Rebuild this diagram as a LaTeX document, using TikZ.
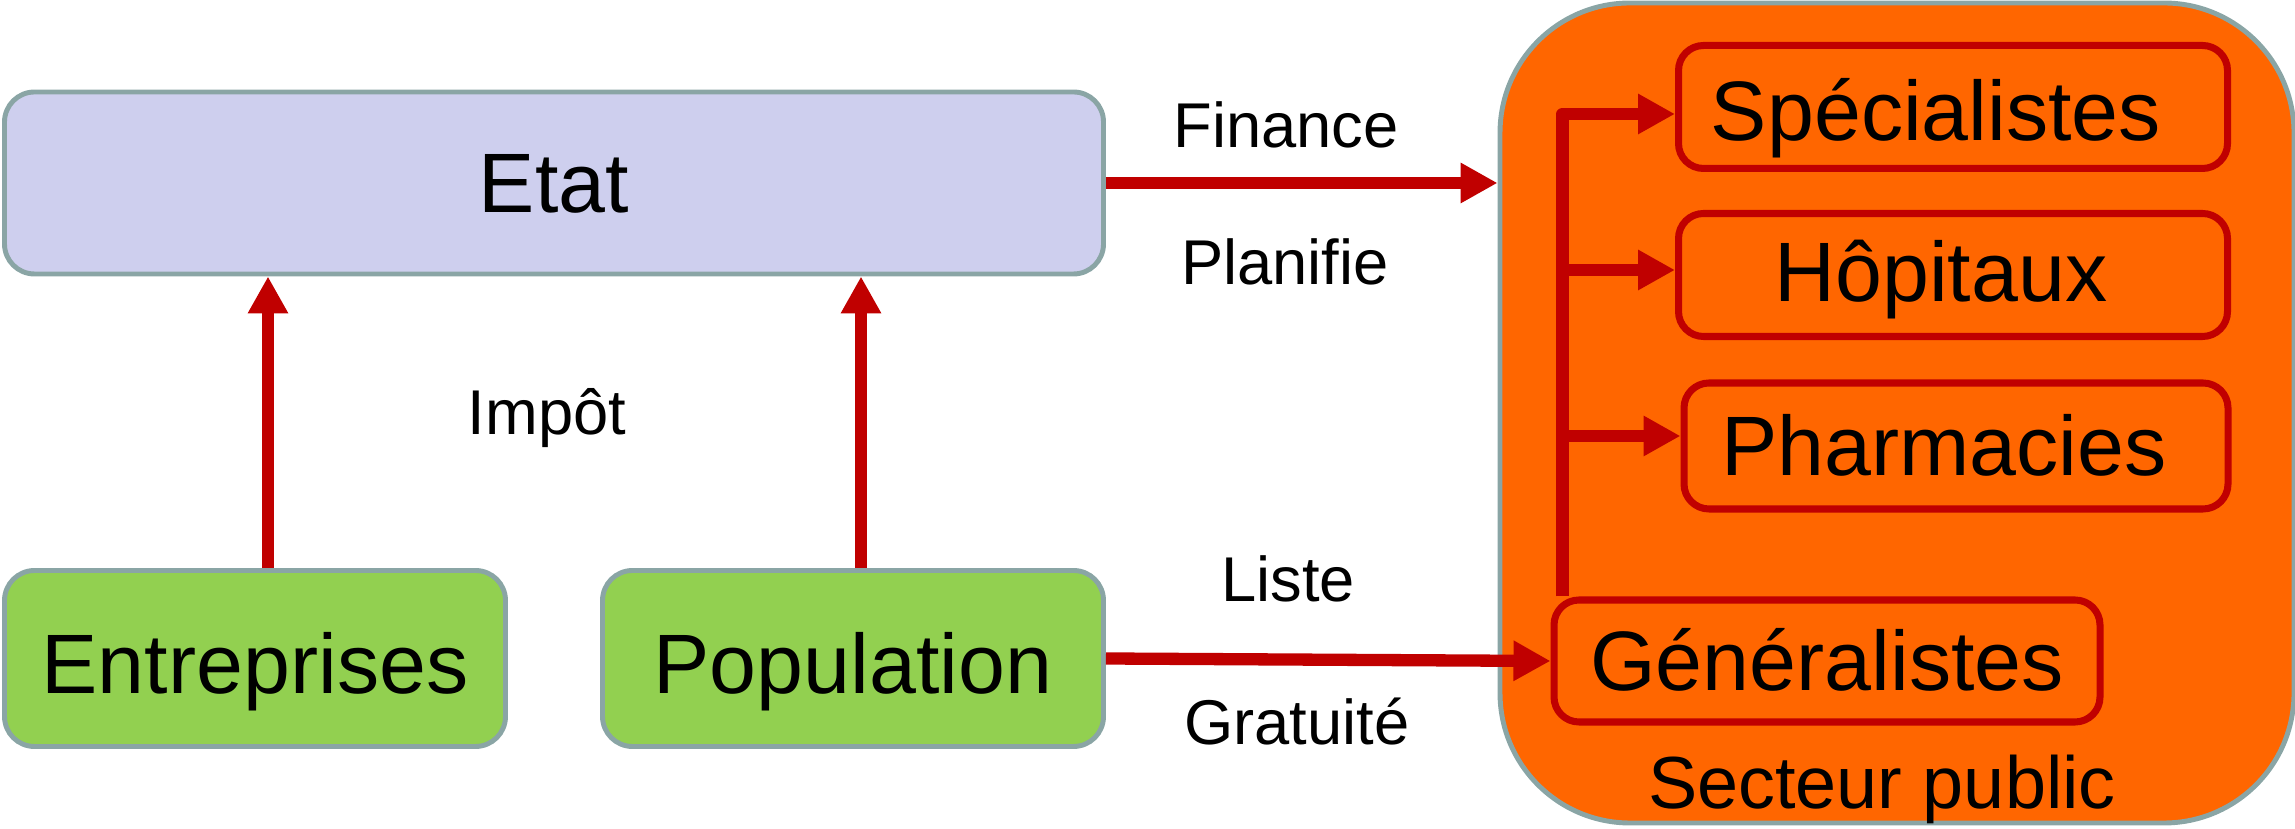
\documentclass[tikz,border=0pt]{standalone}
\usepackage{fontspec}
\setmainfont{Liberation Sans}
\usetikzlibrary{arrows.meta}

\definecolor{etatfill}{RGB}{206,207,238}
\definecolor{greenfill}{RGB}{146,208,80}
\definecolor{sectorange}{RGB}{255,102,0}
\definecolor{bordergray}{RGB}{138,165,165}
\definecolor{darkred}{RGB}{192,0,0}

\begin{document}
\begin{tikzpicture}[
    box/.style={draw=bordergray,line width=1.4pt,rounded corners=3mm,
      text height=17pt,text depth=0pt,font=\fontsize{24}{28}\selectfont},
    sub/.style={box,draw=darkred,fill=sectorange,line width=2pt,rounded corners=2.5mm},
    lbl/.style={anchor=base,font=\fontsize{18}{21}\selectfont},
    arr/.style={draw=darkred,line width=3.5pt,line join=round,
      -{Triangle[length=3.7mm,width=3.8mm]}}]
  \useasboundingbox (0,0) rectangle (22.95,8.29);

  % secteur public
  \node[draw=bordergray,line width=1.4pt,fill=sectorange,rounded corners=13mm,
    minimum width=7.94cm,minimum height=8.2cm] (sect) at (18.97,4.16) {};
  \node[anchor=base,font=\fontsize{21}{25}\selectfont] (sectname) at (18.82,0.2) {Secteur public};

  \node[box,fill=etatfill,minimum width=10.99cm,minimum height=1.82cm] (etat) at (5.54,6.46) {Etat};
  \node[box,fill=greenfill,text height=20pt,minimum width=5.01cm,minimum height=1.76cm] (ent) at (2.55,1.705) {Entreprises};
  \node[box,fill=greenfill,text height=20pt,minimum width=5.01cm,minimum height=1.76cm] (pop) at (8.53,1.705) {Population};

  \node[sub,text height=19pt,minimum width=5.49cm,minimum height=1.23cm] (spec)  at (19.53,7.22) {Spécialistes\hspace*{3.4mm}};
  \node[sub,text height=15pt,minimum width=5.49cm,minimum height=1.23cm] (hop)   at (19.53,5.54) {Hôpitaux\hspace*{2.4mm}};
  \node[sub,minimum width=5.44cm,minimum height=1.26cm] (pharm) at (19.56,3.83) {Pharmacies\hspace*{2.4mm}};
  \node[sub,minimum width=5.46cm,minimum height=1.22cm] (gen)   at (18.27,1.68) {Généralistes};

  % labels
  \node[lbl] (finance)  at (12.86,6.81) {Finance};
  \node[lbl] (planifie) at (12.85,5.44) {Planifie};
  \node[lbl] (impot)    at (5.47,3.94) {Impôt};
  \node[lbl] (liste)    at (12.88,2.27) {Liste};
  \node[lbl] (gratuite) at (12.97,0.84) {Gratuité};

  % flows
  \draw[arr] ([xshift=1.3mm]ent.north) -- ([xshift=1.3mm]ent.north |- etat.south);
  \draw[arr] ([xshift=0.8mm]pop.north) -- ([xshift=0.8mm]pop.north |- etat.south);
  \draw[arr] (etat.east) -- (etat.east -| sect.west);
  \draw[arr] (pop.east) -- (gen.west);

  \coordinate (trunk) at ([xshift=1.2mm]gen.north west);
  \draw[arr] (trunk) |- ([yshift=-0.7mm]spec.west);
  \draw[arr] (trunk |- hop.west) ++(0,0.5mm) -- ([yshift=0.5mm]hop.west);
  \draw[arr] (trunk |- pharm.west) ++(0,1mm) -- ([yshift=1mm]pharm.west);
\end{tikzpicture}
\end{document}
